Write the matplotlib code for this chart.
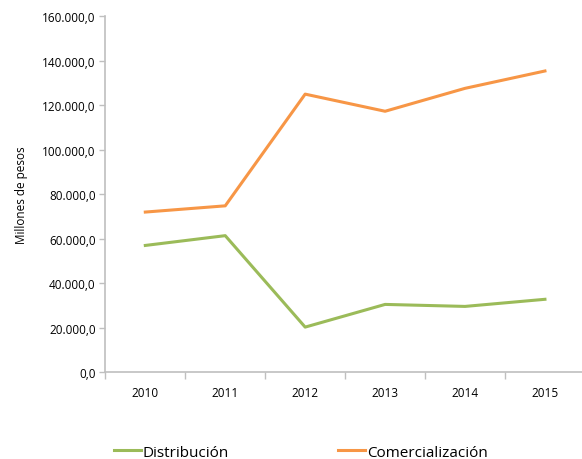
# Distribución y comercialización, millones de pesos 2010-2015
import numpy as np
import matplotlib.pyplot as plt
from matplotlib.ticker import FuncFormatter, FixedLocator

plt.rcParams['font.family'] = ['Open Sans', 'DejaVu Sans']

# datos
anios = ['2010', '2011', '2012', '2013', '2014', '2015']
distribucion = [56900, 61300, 20200, 30400, 29500, 32700]
comercializacion = [71900, 74700, 124900, 117200, 127500, 135300]

verde = '#9BBB59'
naranja = '#F79646'
gris = '#BFBFBF'


def miles(v, pos):
    # formato 160.000,0
    s = '{:,.1f}'.format(v)
    return s.replace(',', 'X').replace('.', ',').replace('X', '.')


fig = plt.figure(figsize=(5.82, 4.60), dpi=100)
ax = fig.add_axes([0.181, 0.189, 0.824, 0.774])

x = np.arange(len(anios))
l1, = ax.plot(x, distribucion, color=verde, linewidth=2.2, label='Distribución')
l2, = ax.plot(x, comercializacion, color=naranja, linewidth=2.2, label='Comercialización')

ax.set_xlim(-0.5, len(anios) - 0.5)
ax.set_ylim(0, 160000)
ax.set_yticks(np.arange(0, 160001, 20000))
ax.yaxis.set_major_formatter(FuncFormatter(miles))

# ticks de categoria en los bordes, etiquetas al centro
ax.xaxis.set_major_locator(FixedLocator(np.arange(-0.5, len(anios), 1.0)))
ax.xaxis.set_minor_locator(FixedLocator(x))
ax.set_xticklabels([])
ax.set_xticklabels(anios, minor=True)
ax.tick_params(axis='x', which='major', length=5, color=gris, width=1)
ax.tick_params(axis='x', which='minor', length=0, pad=10, labelsize=8.5, colors='#000000')
ax.tick_params(axis='y', length=4, color=gris, width=1, labelsize=8.5, pad=3)

for s in ['top', 'right']:
    ax.spines[s].set_visible(False)
for s in ['left', 'bottom']:
    ax.spines[s].set_color(gris)
    ax.spines[s].set_linewidth(1.2)

ax.set_ylabel('Millones de pesos', fontsize=8.5, labelpad=10)

fig.legend(handles=[l1, l2], loc='center left', bbox_to_anchor=(0.172, 0.015),
           ncol=2, frameon=False, fontsize=11, handlelength=1.75,
           handletextpad=0.15, columnspacing=7.15)

fig.savefig('out.png', dpi=100)
